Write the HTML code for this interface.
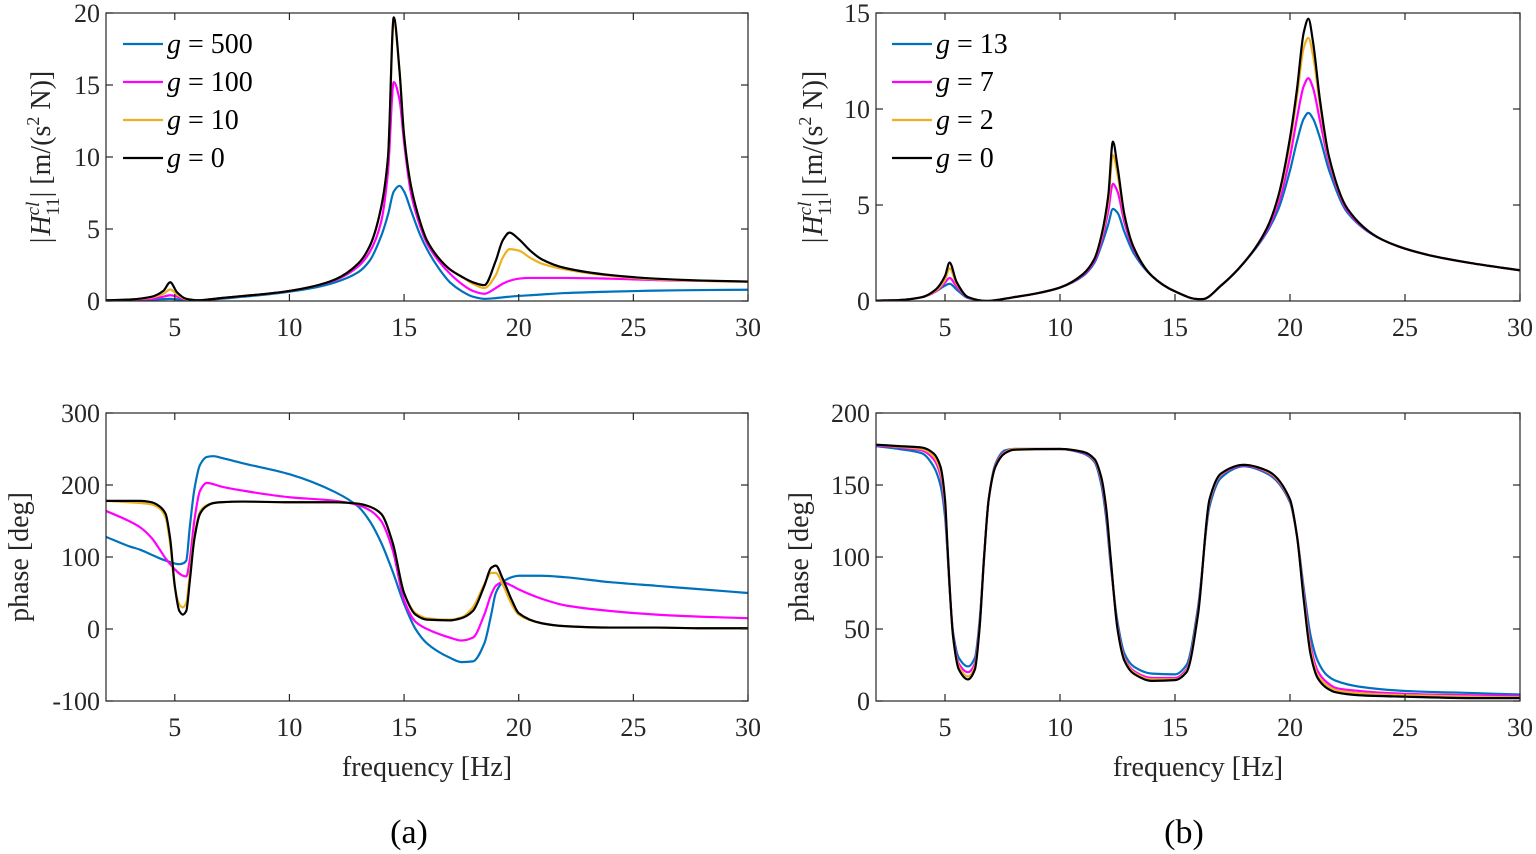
<!DOCTYPE html>
<html><head><meta charset="utf-8"><style>
html,body{margin:0;padding:0;background:#fff;}
svg{display:block;font-family:"Liberation Serif",serif;}
text{font-family:"Liberation Serif",serif;}
</style></head><body>
<svg id="fig" width="1536" height="854" viewBox="0 0 1536 854" xmlns="http://www.w3.org/2000/svg" font-family="Liberation Serif, serif"></svg>
<script>
// ---------- DATA ----------
const colors = {blue:"#0072BD", magenta:"#FF00FF", yellow:"#EDB120", black:"#000000"};

// Panel (a) magnitude
const fA1 = [2,3,4,4.5,4.8,5.1,5.5,6,7,8,9,10,11,12,13,13.5,14,14.3,14.55,14.8,15,15.3,15.7,16,16.5,17,17.5,18,18.5,19,19.3,19.6,20,20.5,21,22,24,26,28,30];
const magA_g0   = [0.05,0.1,0.3,0.7,1.3,0.6,0.15,0.05,0.2,0.35,0.5,0.7,1.0,1.5,2.6,3.8,6.5,10,19.7,16,11.5,8,5.5,4.2,3.0,2.2,1.7,1.3,1.1,2.8,4.2,4.75,4.3,3.5,2.9,2.3,1.8,1.55,1.42,1.35];
const magA_g10  = [0.05,0.1,0.25,0.5,0.8,0.45,0.12,0.05,0.2,0.35,0.5,0.7,1.0,1.5,2.6,3.8,6.5,10,19.4,16,11.5,8,5.5,4.2,3.0,2.2,1.7,1.2,0.9,1.8,3.0,3.6,3.5,3.0,2.6,2.2,1.75,1.5,1.4,1.33];
const magA_g100 = [0.04,0.08,0.15,0.3,0.4,0.3,0.1,0.05,0.2,0.35,0.5,0.7,1.0,1.45,2.4,3.4,5.5,9,15.2,14,11,7.5,5.2,4.0,2.8,1.9,1.2,0.7,0.5,0.9,1.2,1.4,1.55,1.6,1.6,1.6,1.55,1.45,1.4,1.35];
const magA_g500 = [0.03,0.05,0.1,0.13,0.15,0.12,0.08,0.05,0.15,0.3,0.45,0.65,0.9,1.3,2.0,2.8,4.5,6,7.6,8.0,7.6,6.3,4.6,3.6,2.3,1.3,0.7,0.3,0.15,0.2,0.25,0.3,0.35,0.4,0.45,0.55,0.65,0.72,0.76,0.78];

// Panel (b) magnitude
const fB1 = [2,3,4,4.6,5,5.2,5.5,6,6.8,8,9,10,11,11.5,11.8,12.1,12.3,12.5,12.8,13.2,14,15,16,16.2,17,18,19,19.5,20,20.3,20.6,20.8,21,21.3,21.7,22.5,24,26,28,30];
const magB_g0  = [0.02,0.05,0.2,0.6,1.3,2.0,1.0,0.2,0,0.2,0.4,0.7,1.4,2.2,3.4,5.5,8.3,7,4.5,2.8,1.3,0.5,0.1,0.1,0.8,2.0,3.8,5.5,8.5,11,14,14.7,13.5,10.5,7.5,4.8,3.2,2.4,1.95,1.6];
const magB_g2  = [0.02,0.05,0.2,0.55,1.1,1.7,0.9,0.2,0,0.2,0.4,0.7,1.4,2.2,3.3,5.2,7.6,6.6,4.4,2.8,1.3,0.5,0.1,0.1,0.8,2.0,3.8,5.4,8.2,10.6,13.2,13.7,12.8,10.2,7.4,4.8,3.2,2.4,1.95,1.6];
const magB_g7  = [0.02,0.05,0.2,0.5,0.95,1.2,0.75,0.18,0,0.2,0.4,0.7,1.35,2.1,3.1,4.7,6.1,5.7,4.1,2.7,1.3,0.5,0.1,0.1,0.8,2.0,3.7,5.1,7.5,9.5,11.2,11.6,11.1,9.4,7.2,4.7,3.2,2.4,1.95,1.6];
const magB_g13 = [0.02,0.05,0.2,0.5,0.8,0.9,0.6,0.15,0,0.2,0.4,0.7,1.3,2.0,2.9,4.0,4.8,4.6,3.6,2.5,1.3,0.5,0.1,0.1,0.8,2.0,3.6,4.8,6.8,8.3,9.5,9.8,9.5,8.5,6.8,4.6,3.2,2.4,1.95,1.6];

// Panel (a) phase
const fA2 = [2,3,3.5,4,4.35,4.6,4.8,5.0,5.2,5.35,5.5,5.65,5.85,6.1,6.4,6.7,7,8,10,12,13,13.5,14,14.5,15,15.5,16,17,17.5,18,18.5,18.8,19,19.3,19.7,20,21,22,24,26,28,30];
const phA_g0   = [178,178,178,176,170,160,125,60,25,20,25,65,124,160,171,175,176,177,176,176,174,170,160,120,50,20,13,12,15,25,60,85,88,70,40,22,8,4,2,2,1,1];
const phA_g10  = [178,176,175,173,167,155,118,58,34,30,36,75,128,163,172,175,176,177,176,176,174,170,160,120,50,22,15,13,16,30,62,78,78,62,34,20,8,4,2,2,1,1];
const phA_g100 = [164,150,141,126,110,98,90,83,77,74,73,95,150,192,203,201,198,192,183,178,172,165,150,110,40,10,0,-12,-16,-12,20,48,60,65,60,55,42,33,25,20,17,15];
const phA_g500 = [128,115,110,103,98,95,93,91,90,91,95,140,193,228,239,240,238,230,215,190,170,150,120,80,35,0,-20,-40,-46,-45,-20,20,50,65,72,74,74,72,65,60,55,50];

// Panel (b) phase
const fB2 = [2,3,4,4.5,4.8,5.0,5.1,5.2,5.35,5.6,6.0,6.3,6.5,6.7,6.9,7.2,7.6,8,10,11,11.5,11.8,12,12.2,12.5,12.8,13.2,14,15,15.5,16,16.5,17,18,19,20,20.3,20.6,20.9,21.2,21.6,22,23,25,28,30];
const phB_g0  = [178,177,176,172,163,140,110,80,45,22,15,22,50,100,140,163,172,174.5,175,173,168,155,135,100,50,28,19,14,14.5,20,60,140,158,164,160,140,115,70,32,16,9,6,4,3,2,2];
const phB_g2  = [178,176.5,175,170,160,137,109,80,45,24,17,24,51,100,140,163.5,172.5,175,175,173,167.5,154,134,99,51,29,20,15,15,21,61,139,157.5,164,159.5,139.5,115,72,35,18,11,7.5,5.5,4,3,2.5];
const phB_g7  = [177.5,176,174,168,157,134,108,79,46,26,20,26,52,100,140,164,173,175,175,172.5,167,153,132,98,52,30,21,16,16,22,62,138,157,163.5,159,139,115,74,38,21,13,9,7,5,4,3.5];
const phB_g13 = [177,175,172,163,150,128,105,78,48,30,24,30,55,100,140,165,174,175,175,172,166,150,128,95,55,33,24,19,18.5,25,65,135,155,163,158,138,115,78,45,28,18,14,10,7,5.5,4.5];

const xTicks = [5,10,15,20,25,30];
const yTicksMag = {a:[0,5,10,15,20], b:[0,5,10,15]};
const yTicksPh  = {a:[-100,0,100,200,300], b:[0,50,100,150,200]};
const legendA = ["500","100","10","0"];
const legendB = ["13","7","2","0"];

// ---------- DRAWING ----------
const NS="http://www.w3.org/2000/svg";
const FF="Liberation Serif, serif";
const svg=document.getElementById('fig');
function el(tag,attrs,parent){const e=document.createElementNS(NS,tag);for(const k in attrs)e.setAttribute(k,attrs[k]);if(tag==='text')e.setAttribute('font-family',FF);(parent||svg).appendChild(e);return e;}

function makeAxes(name,box,ymin,ymax,yt){
  const g=el('g',{});
  
  
  const sx=f=>box.x0+(f-2)/(30-2)*(box.x1-box.x0);
  const sy=v=>box.y1-(v-ymin)/(ymax-ymin)*(box.y1-box.y0);
  return {g,sx,sy,box,yt};
}
function finishAxes(ax){
  const {g,sx,sy,box,yt}=ax;
  const frame=el('rect',{x:box.x0,y:box.y0,width:box.x1-box.x0,height:box.y1-box.y0,fill:'none',stroke:'#262626','stroke-width':1.2},g);
  
  
  xTicks.forEach(t=>{
    const x=sx(t);
    el('line',{x1:x,x2:x,y1:box.y1,y2:box.y1-7,stroke:'#262626','stroke-width':1.2},g);
    el('line',{x1:x,x2:x,y1:box.y0,y2:box.y0+7,stroke:'#262626','stroke-width':1.2},g);
    const tx=el('text',{x:x,y:box.y1+35,'font-size':26,'text-anchor':'middle',fill:'#262626'},g);
    tx.textContent=t;
    
    
  });
  yt.forEach(t=>{
    const y=sy(t);
    el('line',{x1:box.x0,x2:box.x0+7,y1:y,y2:y,stroke:'#262626','stroke-width':1.2},g);
    el('line',{x1:box.x1,x2:box.x1-7,y1:y,y2:y,stroke:'#262626','stroke-width':1.2},g);
    const tx=el('text',{x:box.x0-6,y:y+9,'font-size':26,'text-anchor':'end',fill:'#262626'},g);
    tx.textContent=t;
    
    
  });
}
// monotone cubic (Fritsch-Carlson) path in pixel space
function pathFrom(xs,ys,ax){
  const X=xs.map(ax.sx), Y=ys.map(ax.sy), n=X.length;
  const d=[],m=new Array(n);
  for(let i=0;i<n-1;i++) d.push((Y[i+1]-Y[i])/(X[i+1]-X[i]));
  m[0]=d[0]; m[n-1]=d[n-2];
  for(let i=1;i<n-1;i++){
    if(d[i-1]*d[i]<=0) m[i]=0;
    else { const h0=X[i]-X[i-1],h1=X[i+1]-X[i];
      const w1=2*h1+h0,w2=h1+2*h0;
      m[i]=(w1+w2)/(w1/d[i-1]+w2/d[i]); }
  }
  let s='M'+X[0].toFixed(2)+','+Y[0].toFixed(2);
  for(let i=0;i<n-1;i++){
    const h=(X[i+1]-X[i])/3;
    s+='C'+(X[i]+h).toFixed(2)+','+(Y[i]+m[i]*h).toFixed(2)+' '+(X[i+1]-h).toFixed(2)+','+(Y[i+1]-m[i+1]*h).toFixed(2)+' '+X[i+1].toFixed(2)+','+Y[i+1].toFixed(2);
  }
  return s;
}
let clipN=0;
function drawSeries(ax,xs,ys,color,name){
  const cp='clip-'+(clipN++);
  const cl=el('clipPath',{id:cp},ax.g);
  el('rect',{x:ax.box.x0,y:ax.box.y0,width:ax.box.x1-ax.box.x0,height:ax.box.y1-ax.box.y0},cl);
  const p=el('path',{d:pathFrom(xs,ys,ax),fill:'none',stroke:color,'stroke-width':2.2,'clip-path':'url(#'+cp+')','stroke-linejoin':'round'},ax.g);
  
  
}
function legend(ax,labels,x,y){
  const cols=[colors.blue,colors.magenta,colors.yellow,colors.black];
  const lg=el('g',{},ax.g);
  
  
  labels.forEach((l,i)=>{
    const yy=y+i*38;
    const e=el('g',{},lg);
    
    
    el('line',{x1:x,x2:x+40,y1:yy,y2:yy,stroke:cols[i],'stroke-width':2.2},e);
    const t=el('text',{x:x+44,y:yy+9,'font-size':28,fill:'#000'},e);
    const ti=el('tspan',{'font-style':'italic'},t); ti.textContent='g';
    const t2=el('tspan',{dx:7},t); t2.textContent='=';
    const t3=el('tspan',{dx:7},t); t3.textContent=l;
  });
}
function ylabel(text,x,y,isMag){
  const t=el('text',{transform:'translate('+x+','+y+') rotate(-90)','font-size':28,'text-anchor':'middle',fill:'#262626'});
  
  
  if(isMag){
    const a=el('tspan',{},t);a.textContent='|';
    const b=el('tspan',{'font-style':'italic',dx:2},t);b.textContent='H';
    const c=el('tspan',{'font-size':19,dy:-11,'font-style':'italic'},t);c.textContent='cl';
    const d=el('tspan',{'font-size':19,dx:-14,dy:20},t);d.textContent='11';
    const e=el('tspan',{dy:-9},t);e.textContent='|  [m/(s';
    const f=el('tspan',{'font-size':18,dy:-11},t);f.textContent='2';
    const h=el('tspan',{dy:11},t);h.textContent=' N)]';
  } else t.textContent=text;
}
function xlabel(x,y){
  const t=el('text',{x:x,y:y,'font-size':28,'text-anchor':'middle',fill:'#262626'});
  t.textContent='frequency [Hz]';
  
  
}

const boxA1={x0:106,x1:748,y0:13,y1:301}, boxB1={x0:876,x1:1520,y0:13,y1:301};
const boxA2={x0:106,x1:748,y0:413,y1:701}, boxB2={x0:876,x1:1520,y0:413,y1:701};

const a1=makeAxes('magnitude-plot-a',boxA1,0,20,yTicksMag.a);
drawSeries(a1,fA1,magA_g500,colors.blue,'line-g500');
drawSeries(a1,fA1,magA_g100,colors.magenta,'line-g100');
drawSeries(a1,fA1,magA_g10,colors.yellow,'line-g10');
drawSeries(a1,fA1,magA_g0,colors.black,'line-g0');
finishAxes(a1); legend(a1,legendA,123,44);

const b1=makeAxes('magnitude-plot-b',boxB1,0,15,yTicksMag.b);
drawSeries(b1,fB1,magB_g13,colors.blue,'line-g13');
drawSeries(b1,fB1,magB_g7,colors.magenta,'line-g7');
drawSeries(b1,fB1,magB_g2,colors.yellow,'line-g2');
drawSeries(b1,fB1,magB_g0,colors.black,'line-g0');
finishAxes(b1); legend(b1,legendB,892,44);

const a2=makeAxes('phase-plot-a',boxA2,-100,300,yTicksPh.a);
drawSeries(a2,fA2,phA_g500,colors.blue,'phase-g500');
drawSeries(a2,fA2,phA_g100,colors.magenta,'phase-g100');
drawSeries(a2,fA2,phA_g10,colors.yellow,'phase-g10');
drawSeries(a2,fA2,phA_g0,colors.black,'phase-g0');
finishAxes(a2);

const b2=makeAxes('phase-plot-b',boxB2,0,200,yTicksPh.b);
drawSeries(b2,fB2,phB_g13,colors.blue,'phase-g13');
drawSeries(b2,fB2,phB_g7,colors.magenta,'phase-g7');
drawSeries(b2,fB2,phB_g2,colors.yellow,'phase-g2');
drawSeries(b2,fB2,phB_g0,colors.black,'phase-g0');
finishAxes(b2);

ylabel('',50,157,true);
ylabel('',822,157,true);
ylabel('phase [deg]',28,557,false);
ylabel('phase [deg]',808,557,false);
xlabel(427,776); xlabel(1198,776);
const ca=el('text',{x:409,y:843,'font-size':34,'text-anchor':'middle'});ca.textContent='(a)';


const cb=el('text',{x:1184,y:843,'font-size':34,'text-anchor':'middle'});cb.textContent='(b)';


</script>
</body></html>
